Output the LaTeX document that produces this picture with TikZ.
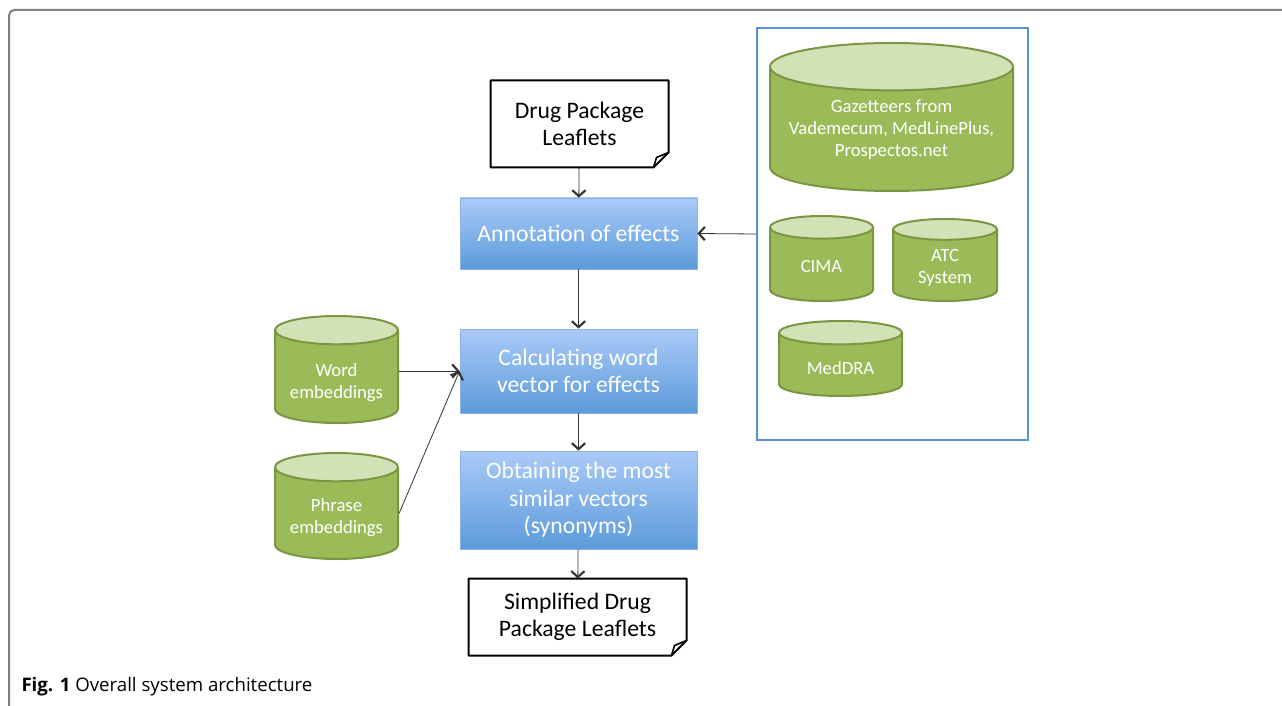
\documentclass[tikz,border=0pt]{standalone}
\usepackage{fontspec}
\setmainfont{Carlito}
\newfontfamily\capfont{Open Sans}
\usetikzlibrary{shapes.geometric,arrows.meta,calc}

\definecolor{cylbody}{HTML}{9BBB59}
\definecolor{cylend}{HTML}{D3E2B6}
\definecolor{cylline}{HTML}{7A9642}
\definecolor{boxtop}{HTML}{AACAF8}
\definecolor{boxbot}{HTML}{5C9BDA}
\definecolor{boxline}{HTML}{8DB3E6}
\definecolor{srcline}{HTML}{5B8ED2}
\definecolor{frameline}{HTML}{808080}

\tikzset{every picture/.style={line width=0.75pt}}
\tikzset{
  procbox/.style={rectangle, draw=boxline, line width=0.6pt, top color=boxtop, bottom color=boxbot,
    text=white, align=center, inner sep=0pt, minimum width=177.75pt,
    font=\fontsize{17.75}{20.5}\selectfont},
  leaflet/.style={rectangle, align=center, inner sep=0pt, font=\fontsize{17.75}{20.5}\selectfont},
  store/.style={cylinder, shape border rotate=90, draw=cylline, line width=1.5pt,
    cylinder uses custom fill, cylinder body fill=cylbody, cylinder end fill=cylend, inner sep=0pt,
    text width=#1, minimum width=#1, anchor=north},
  storetext/.style={text=white, align=center, inner sep=0pt, anchor=center, font=\fontsize{14}{16.5}\selectfont},
  conn/.style={draw=black!80, line width=0.6pt, -{Straight Barb[length=4.5pt,width=10pt,line width=1.6pt]}},
}
% folded leaflet outline round a node
\newcommand{\leafframe}[1]{%
  \draw[line width=1.5pt, line join=round] (#1.north west) -- (#1.north east) -- ($(#1.south east)+(0,-15)$)
    -- ($(#1.south east)+(-15,0)$) -- (#1.south west) -- cycle;
  \draw[line width=1.2pt, line join=round] ($(#1.south east)+(-15,0)$) -- ($(#1.south east)+(-12,-10)$)
    -- ($(#1.south east)+(0,-15)$);}

\begin{document}
\begin{tikzpicture}[x=0.75pt,y=0.75pt,yscale=-1,xscale=1]
\useasboundingbox (0,0) rectangle (1282,706);

%Frame of the figure
\draw[frameline, line width=1.5pt, rounded corners=4pt] (9,706) -- (9,10) -- (1282,10);

%Leaflets in and out
\node[leaflet, minimum width=132.75pt, minimum height=64.5pt] (dpl) at (579.5,124) {Drug Package\\Leaflets};
\leafframe{dpl}
\node[leaflet, minimum width=162.75pt, minimum height=57pt] (sdpl) at (577.5,617) {Simplified Drug\\Package Leaflets};
\leafframe{sdpl}

%Processing steps
\node[procbox, minimum height=53.25pt] (annot) at (578.5,233.5) {Annotation of effects};
\node[procbox, minimum height=63pt] (calc) at (578.5,371) {Calculating word\\vector for effects};
\node[procbox, minimum height=73.5pt] (obtain) at (578.5,500) {Obtaining the most\\similar vectors\\(synonyms)};

%Embeddings
\node[store=92.25pt, minimum height=80.25pt, aspect=0.23,
  label={[storetext, shift={(0,41)}]south:{Word\\embeddings}}] (word) at (336.5,315) {};
\node[store=92.25pt, minimum height=79.5pt, aspect=0.23,
  label={[storetext, shift={(0,42)}]south:{Phrase\\embeddings}}] (phrase) at (336.5,452) {};

%Resources
\node[draw=srcline, line width=1.8pt, minimum width=203.25pt, minimum height=309pt] (sources) at (892.5,234) {};
\node[store=182.25pt, minimum height=111pt, aspect=0.195,
  label={[storetext, shift={(0,62)}]south:{Gazetteers from\\Vademecum, MedLinePlus,\\Prospectos.net}}] (gaz) at (891.5,42) {};
\node[store=77.25pt, minimum height=63.75pt, aspect=0.22,
  label={[storetext, shift={(0,35)}]south:CIMA}] (cima) at (821.5,215) {};
\node[store=78pt, minimum height=61.5pt, aspect=0.20,
  label={[storetext, shift={(0,34)}]south:{ATC\\System}}] (atc) at (945,218) {};
\node[store=92.25pt, minimum height=56.25pt, aspect=0.19,
  label={[storetext, shift={(0,29)}]south:MedDRA}] (meddra) at (840.5,320) {};

%Connectors
\draw[conn] (dpl) -- (annot);
\draw[conn] (annot) -- (calc);
\draw[conn] (calc) -- (obtain);
\draw[conn] (obtain) -- (sdpl);
\draw[conn] (sources.west) -- (annot.east);
\draw[conn] (word.east |- calc.west) -- (calc.west);
\draw[conn] (phrase.east) -- (calc.west);

%Caption
\node[anchor=base west, inner sep=0pt, font=\capfont\fontsize{14}{16}\selectfont] (caption) at (21,691) {\textbf{Fig. 1} Overall system architecture};

\end{tikzpicture}
\end{document}
